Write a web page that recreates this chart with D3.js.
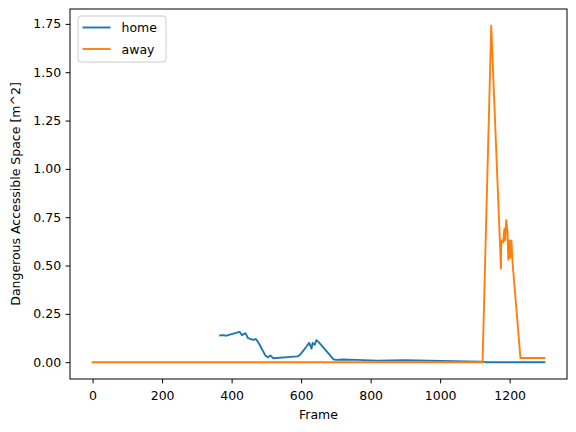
<!DOCTYPE html>
<html>
<head>
<meta charset="utf-8">
<script src="https://cdn.jsdelivr.net/npm/d3@7"></script>
<style>
  body { margin: 0; background: #fff; }
  text { font-family: "DejaVu Sans", sans-serif; }
</style>
</head>
<body>
<svg id="chart" width="576" height="432"></svg>
<script>
// data
const homeFrames = [367, 375, 385, 400, 423, 430, 440, 447, 462, 470, 479, 497, 505, 511, 520,
    590, 598, 615, 623, 630, 633, 639, 644, 650, 681, 693, 700, 720, 760, 820, 900, 1000, 1120, 1130, 1300];
const homeValues = [0.138, 0.14, 0.137, 0.145, 0.157, 0.14, 0.15, 0.125, 0.115, 0.12, 0.095, 0.035, 0.025, 0.035, 0.02,
    0.03, 0.04, 0.08, 0.10, 0.07, 0.10, 0.09, 0.114, 0.105, 0.04, 0.015, 0.012, 0.014, 0.012, 0.008, 0.01, 0.007, 0.003, 0.0, 0.0];
const awayFrames = [0, 1122, 1147, 1175, 1176, 1181, 1185, 1187, 1190, 1194, 1196, 1199, 1202, 1205, 1209, 1231, 1300];
const awayValues = [0, 0, 1.74, 0.485, 0.63, 0.62, 0.69, 0.63, 0.735, 0.67, 0.53, 0.63, 0.54, 0.63, 0.5, 0.022, 0.022];
const xTicks = [0, 200, 400, 600, 800, 1000, 1200];
const yTicks = [0, 0.25, 0.5, 0.75, 1.0, 1.25, 1.5, 1.75];
const seriesNames = ["home", "away"];
const colors = ["#1f77b4", "#ff7f0e"];

const svg = d3.select('#chart');
const margin = {top: 9, right: 9, bottom: 53, left: 70};
const innerWidth = 576 - margin.left - margin.right;
const innerHeight = 432 - margin.top - margin.bottom;
const g = svg.append('g').attr('transform', `translate(${margin.left}, ${margin.top})`);

const xScale = d3.scaleLinear().domain([-65, 1365]).range([0, innerWidth]);
const yScale = d3.scaleLinear().domain([-0.087, 1.827]).range([innerHeight, 0]);

const xAxis = g.append('g').attr('transform', `translate(0, ${innerHeight})`)
    .call(d3.axisBottom(xScale).tickValues(xTicks).tickFormat(d3.format('d')).tickSize(4.4).tickPadding(4.5));
const yAxis = g.append('g')
    .call(d3.axisLeft(yScale).tickValues(yTicks).tickFormat(d3.format('.2f')).tickSize(4.4).tickPadding(4.5));
[xAxis, yAxis].forEach(a => {
    a.attr('font-size', 12.5).attr('font-family', '"DejaVu Sans", sans-serif');
    a.select('.domain').remove();
    a.selectAll('text').attr('fill', '#000');
    a.selectAll('line').attr('stroke', '#000').attr('stroke-width', 1);
});
// place x tick labels with a plain baseline
xAxis.selectAll('text').attr('dy', null).attr('y', 21);

const line = d3.line().x(d => xScale(d[0])).y(d => yScale(d[1]));
const series = [
    d3.zip(homeFrames, homeValues),
    d3.zip(awayFrames, awayValues)
];
g.selectAll('.series')
    .data(series)
    .join('path')
    .classed('series', true)
    .attr('fill', 'none')
    .attr('stroke', (d, i) => colors[i])
    .attr('stroke-width', 1.9)
    .attr('stroke-linejoin', 'round')
    .attr('stroke-linecap', 'square')
    .attr('d', line);

// frame
g.append('rect')
    .attr('width', innerWidth).attr('height', innerHeight)
    .attr('fill', 'none').attr('stroke', '#000').attr('stroke-width', 1);

// axis labels
g.append('text')
    .attr('x', innerWidth / 2).attr('y', innerHeight + 40)
    .attr('text-anchor', 'middle').attr('font-size', 12.5)
    .text('Frame');
g.append('text')
    .attr('transform', 'rotate(-90)')
    .attr('x', -innerHeight / 2).attr('y', -50)
    .attr('text-anchor', 'middle').attr('font-size', 12.5)
    .text('Dangerous Accessible Space [m^2]');

// legend
const legend = g.append('g').attr('transform', 'translate(8, 7)');
legend.append('rect')
    .attr('width', 88).attr('height', 46).attr('rx', 3)
    .attr('fill', '#fff').attr('fill-opacity', 0.8)
    .attr('stroke', '#ccc').attr('stroke-width', 1);
seriesNames.forEach((name, i) => {
    const y = 11.5 + i * 21.5;
    legend.append('line')
        .attr('x1', 4.5).attr('x2', 32.5).attr('y1', y).attr('y2', y)
        .attr('stroke', colors[i]).attr('stroke-width', 1.9);
    legend.append('text')
        .attr('x', 43.5).attr('y', y + 4.5)
        .attr('font-size', 12.5)
        .text(name);
});
</script>
</body>
</html>
